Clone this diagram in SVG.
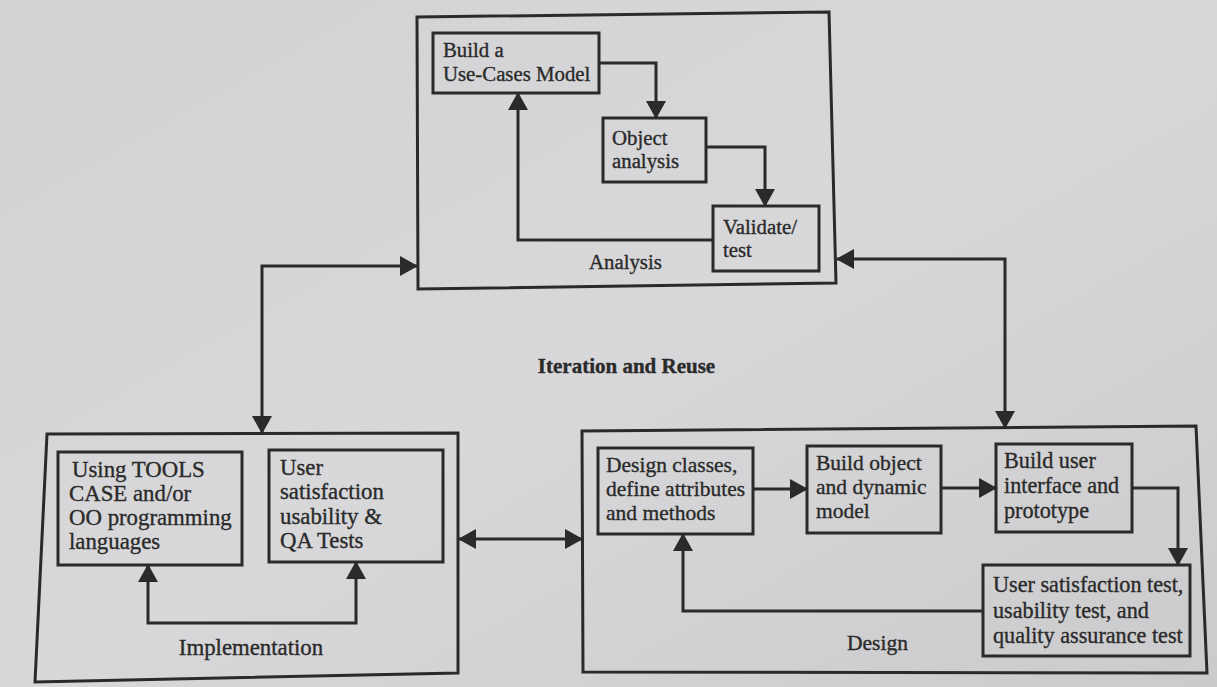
<svg xmlns="http://www.w3.org/2000/svg" width="1217" height="687" viewBox="0 0 1217 687">
  <defs>
    <linearGradient id="paper" x1="0" y1="0" x2="1" y2="1">
      <stop offset="0" stop-color="#d2d2d4"/>
      <stop offset="0.5" stop-color="#d8d8da"/>
      <stop offset="1" stop-color="#cbcbcd"/>
    </linearGradient>
    <marker id="ah" viewBox="0 0 18 20" refX="17" refY="10" markerWidth="18" markerHeight="20" markerUnits="userSpaceOnUse" orient="auto-start-reverse">
      <path d="M0,0 L18,10 L0,20 z" fill="#2a2a2d"/>
    </marker>
    <style>
      .frame { fill: none; stroke: #2a2a2d; stroke-width: 3; stroke-linejoin: miter; }
      .box { fill: none; stroke: #2a2a2d; stroke-width: 3; }
      .conn { fill: none; stroke: #2a2a2d; stroke-width: 3; }
      .one { marker-end: url(#ah); }
      .two { marker-start: url(#ah); marker-end: url(#ah); }
      text { font-family: "Liberation Serif", "Times New Roman", serif; fill: #2a2a2a; stroke: #2a2a2a; stroke-width: 0.35px; }
      .a { font-size: 20.8px; }
      .i { font-size: 22.8px; }
      .d { font-size: 21.5px; }
      .d2 { font-size: 22.2px; }
      .title { font-size: 21px; font-weight: bold; }
    </style>
  </defs>

  <rect x="0" y="0" width="1217" height="687" fill="url(#paper)"/>

  <g id="analysis">
    <polygon class="frame" points="417,17 829,12 836,283 418,289"/>
    <text class="a" x="589" y="269">Analysis</text>
  </g>
  <g id="use-cases-model">
    <rect class="box" x="433" y="33" width="166" height="60"/>
    <text class="a" x="443" y="57">Build a</text>
    <text class="a" x="443" y="81">Use-Cases Model</text>
  </g>
  <g id="object-analysis">
    <rect class="box" x="603" y="118" width="103" height="64"/>
    <text class="a" x="612" y="145">Object</text>
    <text class="a" x="612" y="168">analysis</text>
  </g>
  <g id="validate-test">
    <rect class="box" x="713" y="206" width="106" height="65"/>
    <text class="a" x="723" y="234">Validate/</text>
    <text class="a" x="723" y="257">test</text>
  </g>

  <g id="iteration-reuse">
    <text class="title" x="626.5" y="373" text-anchor="middle">Iteration and Reuse</text>
  </g>

  <g id="implementation">
    <polygon class="frame" points="47,434 458,433 458,673 35,682"/>
    <text class="i" x="251" y="655" text-anchor="middle">Implementation</text>
  </g>
  <g id="using-tools">
    <rect class="box" x="58" y="452" width="184" height="113"/>
    <text class="i" x="72" y="477">Using TOOLS</text>
    <text class="i" x="69" y="501">CASE and/or</text>
    <text class="i" x="69" y="525">OO programming</text>
    <text class="i" x="69" y="549">languages</text>
  </g>
  <g id="user-satisfaction-qa">
    <rect class="box" x="269" y="450" width="174" height="112"/>
    <text class="i" x="280" y="475">User</text>
    <text class="i" x="280" y="499">satisfaction</text>
    <text class="i" x="280" y="524">usability &amp;</text>
    <text class="i" x="280" y="548">QA Tests</text>
  </g>

  <g id="design">
    <polygon class="frame" points="582,431 1196,426 1207,673 583,672"/>
    <text class="d" x="847" y="650">Design</text>
  </g>
  <g id="design-classes">
    <rect class="box" x="598" y="448" width="155" height="86"/>
    <text class="d" x="606" y="472">Design classes,</text>
    <text class="d" x="606" y="496">define attributes</text>
    <text class="d" x="606" y="520">and methods</text>
  </g>
  <g id="build-object-model">
    <rect class="box" x="807" y="446" width="134" height="87"/>
    <text class="d" x="816" y="470">Build object</text>
    <text class="d" x="816" y="494">and dynamic</text>
    <text class="d" x="816" y="518">model</text>
  </g>
  <g id="build-user-interface">
    <rect class="box" x="996" y="444" width="136" height="88"/>
    <text class="d2" x="1004" y="468">Build user</text>
    <text class="d2" x="1004" y="493">interface and</text>
    <text class="d2" x="1004" y="518">prototype</text>
  </g>
  <g id="user-satisfaction-test">
    <rect class="box" x="983" y="565" width="207" height="91"/>
    <text class="d2" x="993" y="592">User satisfaction test,</text>
    <text class="d2" x="993" y="618">usability test, and</text>
    <text class="d2" x="993" y="643">quality assurance test</text>
  </g>

  <g id="connectors">
    <path class="conn two" d="M262,433 L262,266 L417,266"/>
    <path class="conn two" d="M837,259 L1005,259 L1005,428"/>
    <path class="conn two" d="M459,539 L582,539"/>
    <path class="conn one" d="M599,63 L656,63 L656,118"/>
    <path class="conn one" d="M706,147 L765,147 L765,206"/>
    <path class="conn one" d="M713,240 L518,240 L518,93"/>
    <path class="conn two" d="M148,565 L148,623 L356,623 L356,562"/>
    <path class="conn one" d="M753,489 L807,489"/>
    <path class="conn one" d="M941,488 L996,488"/>
    <path class="conn one" d="M1132,488 L1178,488 L1178,565"/>
    <path class="conn one" d="M983,611 L683,611 L683,534"/>
  </g>
</svg>
